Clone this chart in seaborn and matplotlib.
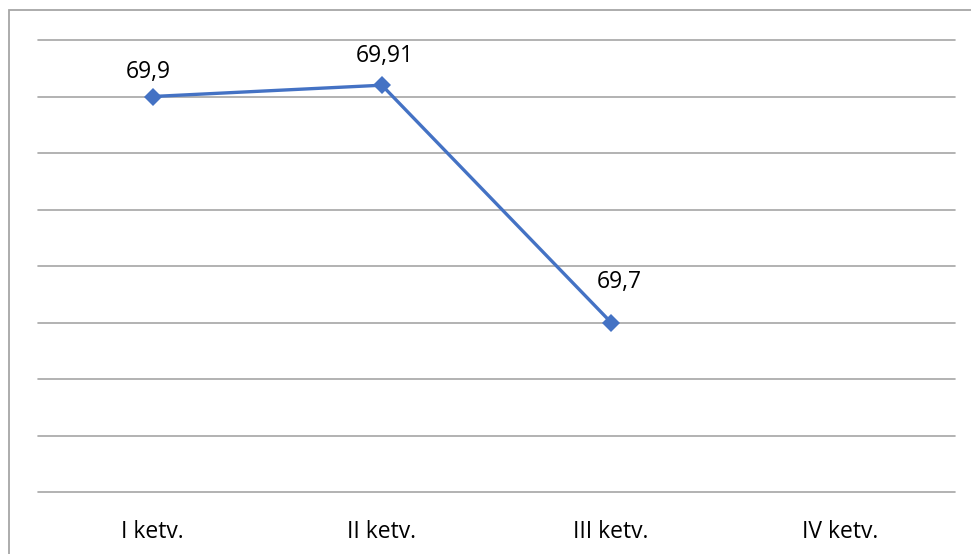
import numpy as np
import pandas as pd
import matplotlib
matplotlib.use("Agg")
import matplotlib.pyplot as plt
import seaborn as sns

categories = ["I ketv.", "II ketv.", "III ketv.", "IV ketv."]
values = [69.9, 69.91, 69.7, np.nan]
labels = ["69,9", "69,91", "69,7", ""]
# label offsets (points) from the marker, as placed in the original
label_dx = [-3, 2, 6, 0]
label_dy = [13.5, 16.5, 25, 0]

sns.set_style("white")
plt.rcParams["font.family"] = ["Open Sans", "DejaVu Sans"]

df = pd.DataFrame({"cat": categories, "val": values})

fig = plt.figure(figsize=(9.71, 5.54), dpi=100)
ax = fig.add_axes([38 / 971, 1 - 492 / 554, (955 - 38) / 971, (492 - 40) / 554])

# outer chart border (left and top edges visible only)
fig.patches.append(plt.Rectangle((9 / 971, -0.05), 1.0, 1 - 10 / 554 + 0.05,
                                 transform=fig.transFigure, fill=False,
                                 edgecolor="#a6a6a6", linewidth=1.3))

x = np.arange(len(categories))
sns.lineplot(x=x, y=df["val"], ax=ax, color="#4472C4", linewidth=2.4,
             marker="D", markersize=9, markeredgewidth=0)

for xi, v, lab, dx, dy in zip(x, values, labels, label_dx, label_dy):
    if lab:
        ax.annotate(lab, (xi, v), xytext=(dx, dy), textcoords="offset points",
                    ha="center", va="baseline", fontsize=16.5, color="#000000")

ax.set_xlim(-0.5, 3.5)
ax.set_ylim(69.55, 69.95)
ax.set_yticks(np.arange(69.55, 69.951, 0.05))
ax.set_yticklabels([])
ax.set_xticks(x)
ax.set_xticklabels(categories, fontsize=16.5, color="#000000")
ax.tick_params(axis="both", length=0)
ax.tick_params(axis="x", pad=20)
ax.grid(axis="y", color="#a6a6a6", linewidth=1.2)
for gl in ax.get_ygridlines():
    gl.set_clip_on(False)
ax.set_axisbelow(True)
for s in ["top", "left", "right", "bottom"]:
    ax.spines[s].set_visible(False)
ax.set_xlabel("")
ax.set_ylabel("")

fig.savefig("out.png", dpi=100)
